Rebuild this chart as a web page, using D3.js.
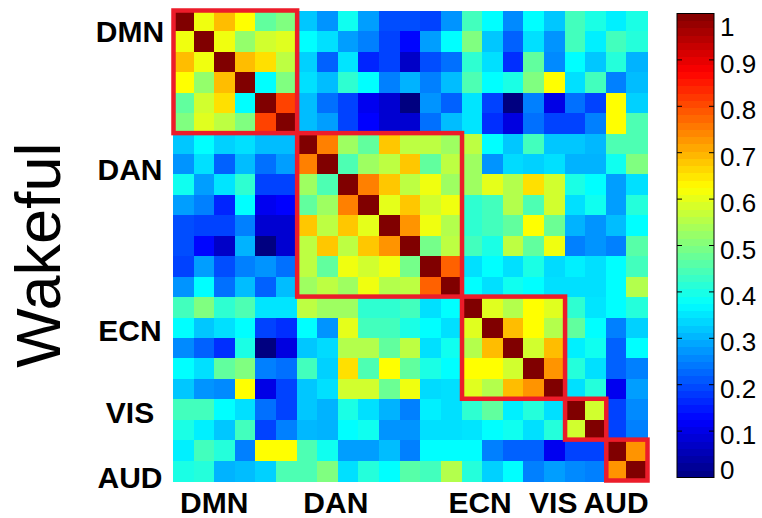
<!DOCTYPE html>
<html>
<head>
<meta charset="utf-8">
<script src="https://cdn.jsdelivr.net/npm/d3@7/dist/d3.min.js"></script>
<style>
  body { margin: 0; background: #fff; }
  text { font-family: "Liberation Sans", Arial, sans-serif; }
</style>
</head>
<body>
<svg id="chart" width="762" height="518"></svg>
<script>
// networks and how many nodes each one has
const networks = ["DMN", "DAN", "ECN", "VIS", "AUD"];
const networkSizes = [6, 8, 5, 2, 2];

// upper triangle of the correlation matrix, row i holds columns i..22
const upper = [
  [1, .61, .69, .625, .47, .50, .32, .27, .39, .28, .20, .20, .19, .27, .44, .375, .26, .375, .32, .44, .40, .36, .40],
  [1, .61, .52, .58, .595, .375, .345, .28, .25, .19, .13, .28, .375, .50, .32, .22, .345, .27, .44, .36, .44, .41],
  [1, .69, .655, .56, .33, .22, .35, .16, .19, .07, .20, .235, .42, .345, .17, .47, .26, .375, .32, .41, .30],
  [1, .375, .50, .345, .31, .42, .375, .25, .30, .25, .31, .45, .375, .40, .50, .625, .345, .44, .25, .31],
  [1, .81, .31, .235, .19, .11, .08, 0, .27, .22, .35, .19, 0, .25, .10, .235, .19, .625, .33],
  [1, .31, .28, .19, .125, .08, .08, .235, .31, .35, .17, .095, .235, .19, .19, .25, .625, .45],
  [1, .75, .53, .47, .68, .56, .56, .53, .56, .375, .32, .44, .32, .32, .305, .45, .45],
  [1, .45, .53, .56, .68, .47, .56, .53, .27, .34, .33, .345, .30, .30, .39, .50],
  [1, .75, .68, .56, .61, .53, .53, .60, .55, .655, .58, .40, .375, .28, .345],
  [1, .60, .68, .58, .61, .42, .44, .55, .45, .58, .345, .39, .28, .41],
  [1, .73, .61, .55, .42, .44, .47, .625, .48, .30, .27, .31, .375],
  [1, .49, .56, .44, .40, .56, .47, .61, .25, .27, .25, .46],
  [1, .78, .345, .375, .345, .40, .34, .36, .345, .375, .44],
  [1, .375, .345, .39, .375, .345, .345, .345, .375, .55],
  [1, .595, .55, .625, .595, .42, .35, .375, .41],
  [1, .69, .625, .55, .47, .375, .25, .33],
  [1, .58, .69, .36, .39, .22, .375],
  [1, .73, .41, .345, .22, .25],
  [1, .345, .41, .11, .28],
  [1, .58, .19, .26],
  [1, .19, .25],
  [1, .73],
  [1]
];

const colorbarTicks = [0, 0.1, 0.2, 0.3, 0.4, 0.5, 0.6, 0.7, 0.8, 0.9, 1];

// where the group labels sit, in cell units (layout, not data)
const rowLabelAt = [0.98, 7.73, 15.6, 19.6, 22.8];
const colLabelAt = [2.0, 7.9, 14.9, 18.45, 21.5];

const n = upper.length;
// build the full symmetric matrix
const cells = [];
for (let i = 0; i < n; i++) {
  for (let j = i; j < n; j++) {
    const v = upper[i][j - i];
    cells.push({ r: i, c: j, v: v });
    if (j != i) cells.push({ r: j, c: i, v: v });
  }
}

// MATLAB style jet colormap
function jet(v) {
  const cl = x => Math.max(0, Math.min(1, x));
  const r = cl(1.5 - Math.abs(4 * v - 3));
  const g = cl(1.5 - Math.abs(4 * v - 2));
  const b = cl(1.5 - Math.abs(4 * v - 1));
  return d3.rgb(r * 255, g * 255, b * 255).formatHex();
}

const svg = d3.select("#chart");

const idx = d3.range(n);
const x = d3.scaleBand().domain(idx).range([173, 647]).padding(0);
const y = d3.scaleBand().domain(idx).range([11, 481]).padding(0);
const xPos = d3.scaleLinear().domain([0, n]).range([173, 647]);
const yPos = d3.scaleLinear().domain([0, n]).range([11, 481]);

// heatmap cells
svg.append("g")
  .selectAll("rect")
  .data(cells)
  .join("rect")
  .attr("x", d => x(d.c))
  .attr("y", d => y(d.r))
  .attr("width", x.bandwidth() + 0.5)
  .attr("height", y.bandwidth() + 0.5)
  .attr("fill", d => jet(d.v))
  .attr("shape-rendering", "crispEdges");

// red boxes around each network block
const starts = [];
let acc = 0;
networkSizes.forEach(s => { starts.push(acc); acc += s; });

svg.append("g")
  .selectAll("rect")
  .data(networks)
  .join("rect")
  .attr("x", (d, i) => xPos(starts[i]) + 0.5)
  .attr("y", (d, i) => yPos(starts[i]) - 0.5)
  .attr("width", (d, i) => xPos(starts[i] + networkSizes[i]) - xPos(starts[i]))
  .attr("height", (d, i) => yPos(starts[i] + networkSizes[i]) - yPos(starts[i]))
  .attr("fill", "none")
  .attr("stroke", "#ec1c2a")
  .attr("stroke-width", 4.5);

// row labels
svg.append("g")
  .selectAll("text")
  .data(networks)
  .join("text")
  .attr("x", 130)
  .attr("y", (d, i) => yPos(rowLabelAt[i]) + 11)
  .attr("text-anchor", "middle")
  .attr("font-size", 30)
  .attr("font-weight", "bold")
  .text(d => d);

// column labels
svg.append("g")
  .selectAll("text")
  .data(networks)
  .join("text")
  .attr("x", (d, i) => xPos(colLabelAt[i]))
  .attr("y", 513)
  .attr("text-anchor", "middle")
  .attr("font-size", 30)
  .attr("font-weight", "bold")
  .text(d => d);

// big side title
svg.append("text")
  .attr("transform", "translate(59.5,255) rotate(-90)")
  .attr("text-anchor", "middle")
  .attr("font-size", 63)
  .text("Wakeful");

// colorbar
const cb = { x: 677, w: 37, top: 13.5, bottom: 477.5 };
const cScale = d3.scaleLinear().domain([0, 1]).range([cb.bottom, cb.top]);
const bands = d3.range(64);
svg.append("g")
  .selectAll("rect")
  .data(bands)
  .join("rect")
  .attr("x", cb.x)
  .attr("y", d => cScale((d + 1) / 64))
  .attr("width", cb.w)
  .attr("height", d => cScale(d / 64) - cScale((d + 1) / 64) + 0.4)
  .attr("fill", d => jet((d + 0.5) / 64))
  .attr("shape-rendering", "crispEdges");

svg.append("rect")
  .attr("x", cb.x)
  .attr("y", cb.top)
  .attr("width", cb.w)
  .attr("height", cb.bottom - cb.top)
  .attr("fill", "none")
  .attr("stroke", "#000")
  .attr("stroke-width", 1);

const tickG = svg.append("g");
tickG.selectAll("line.l")
  .data(colorbarTicks.filter(t => t > 0 && t < 1))
  .join("line")
  .attr("class", "l")
  .attr("x1", cb.x).attr("x2", cb.x + 5)
  .attr("y1", d => cScale(d)).attr("y2", d => cScale(d))
  .attr("stroke", "#000");
tickG.selectAll("line.r")
  .data(colorbarTicks.filter(t => t > 0 && t < 1))
  .join("line")
  .attr("class", "r")
  .attr("x1", cb.x + cb.w - 5).attr("x2", cb.x + cb.w)
  .attr("y1", d => cScale(d)).attr("y2", d => cScale(d))
  .attr("stroke", "#000");

tickG.selectAll("text")
  .data(colorbarTicks)
  .join("text")
  .attr("x", 720)
  .attr("y", d => Math.max(27, Math.min(470, cScale(d) + 4)) + 9)
  .attr("font-size", 26)
  .text(d => d);
</script>
</body>
</html>
